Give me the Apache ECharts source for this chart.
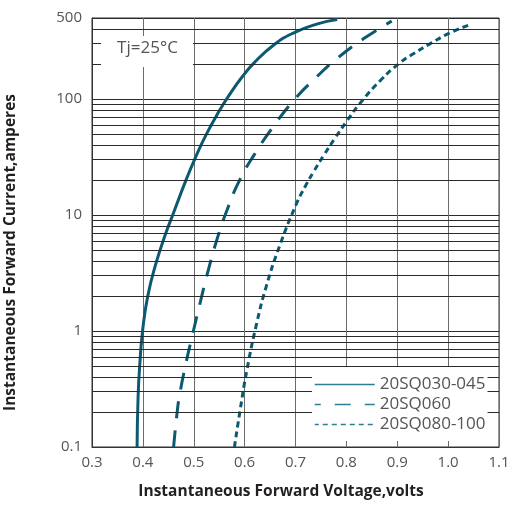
<!DOCTYPE html>
<html><head><meta charset="utf-8">
<script src="https://cdn.jsdelivr.net/npm/echarts@6/dist/echarts.min.js"></script>
<style>html,body{margin:0;padding:0;background:#fff}#c{width:512px;height:505px}</style>
</head><body><div id="c"></div>
<script>
var seriesNames = ['20SQ030-045', '20SQ060', '20SQ080-100'];
var xTicks = ['0.3','0.4','0.5','0.6','0.7','0.8','0.9','1.0','1.1'];
var yTicks = ['0.1','1','10','100','500'];
var minorGrid = [0.2,0.3,0.4,0.5,0.6,0.7,0.8,0.9,2,3,4,5,6,7,8,9,20,30,40,50,60,70,80,90,200,300,400];
// [voltage, current]
var curveA = [[0.3886,0.1],[0.3906,0.271],[0.3941,0.527],[0.3996,1.02],[0.4094,1.98],[0.4257,3.83],[0.4459,7.14],[0.4598,10.3],[0.4847,20.0],[0.5039,31.8],[0.5239,48.9],[0.5473,75.3],[0.5720,112],[0.5935,152],[0.6190,206],[0.6578,294],[0.6957,371],[0.7416,443],[0.7820,485]];
var curveB = [[0.4604,0.1],[0.4671,0.195],[0.4722,0.281],[0.4839,0.509],[0.4982,0.955],[0.5131,1.79],[0.5278,3.25],[0.5453,6.09],[0.5653,11.0],[0.5902,20.0],[0.6206,34.0],[0.6561,57.7],[0.6953,96.1],[0.7420,156],[0.7845,229],[0.8349,334],[0.8892,470]];
var curveC = [[0.580,0.1],[0.5912,0.2085],[0.6045,0.461],[0.6237,1.165],[0.6433,2.49],[0.6686,5.40],[0.7008,12.2],[0.7204,18.1],[0.7355,23.6],[0.7559,32.9],[0.7773,45.8],[0.800,63.7],[0.8267,91.8],[0.8678,146],[0.9039,203],[0.9333,248],[0.9657,302],[1.0014,368],[1.0406,434]];

var curveColor = '#0b5a72';
var legendColor = '#2f7c95';
var chart = echarts.init(document.getElementById('c'));
chart.setOption({
  animation: false,
  textStyle: {fontFamily: 'Open Sans'},
  grid: {left: 92, right: 13, top: 18, bottom: 58, containLabel: false, outerBoundsMode: 'none',
    show: true, borderColor: '#333', borderWidth: 1, backgroundColor: '#fff'},
  xAxis: {
    type: 'value', min: 0.3, max: 1.1, interval: 0.1,
    name: 'Instantaneous Forward Voltage,volts', nameLocation: 'middle', nameGap: 37,
    nameTextStyle: {fontFamily: 'Open Sans', fontWeight: 'bold', fontSize: 15.5, color: '#231f20', padding: [0, 29, 0, 0]},
    axisLine: {show: true, lineStyle: {color: '#333'}},
    axisTick: {show: false},
    axisLabel: {color: '#555', fontSize: 15, margin: 8, formatter: function (v) {
      var i = Math.round((v - 0.3) * 10); return xTicks[i] !== undefined ? xTicks[i] : ''; }},
    splitLine: {show: true, lineStyle: {color: '#6b6b6b', width: 1}}
  },
  yAxis: {
    type: 'log', logBase: 10, min: 0.1, max: 500,
    name: 'Instantaneous Forward Current,amperes', nameLocation: 'middle', nameGap: 73, nameRotate: 90,
    nameTextStyle: {fontFamily: 'Open Sans', fontWeight: 'bold', fontSize: 15.5, color: '#231f20', padding: [0, 40, 0, 0]},
    axisLine: {show: true, lineStyle: {color: '#333'}},
    axisTick: {show: false},
    axisLabel: {color: '#555', fontSize: 15, margin: 10, showMaxLabel: true, formatter: function (v) {
      var s = String(Math.round(v * 10) / 10); return yTicks.indexOf(s) >= 0 ? s : ''; }},
    splitLine: {show: true, lineStyle: {color: '#2a2a2a', width: 1}}
  },
  legend: {
    show: true, orient: 'vertical', left: 312, top: 367, z: 10,
    backgroundColor: '#fff', padding: [9, 2, 8, 2],
    itemWidth: 60, itemHeight: 18, itemGap: 3,
    itemStyle: {opacity: 0},
    textStyle: {fontSize: 17, color: '#555'},
    data: [
      {name: seriesNames[0], itemStyle: {opacity: 0}, lineStyle: {width: 1.5, color: legendColor, type: 'solid'}},
      {name: seriesNames[1], itemStyle: {opacity: 0}, lineStyle: {width: 1.5, color: legendColor, type: [16, 14], dashOffset: 10}},
      {name: seriesNames[2], itemStyle: {opacity: 0}, lineStyle: {width: 1.5, color: legendColor, type: [5, 4]}}
    ]
  },
  graphic: [
    {type: 'rect', z: 100, shape: {x: 101, y: 36, width: 92, height: 31}, style: {fill: '#fff'}},
    {type: 'text', z: 101, x: 147.5, y: 48, style: {text: 'Tj=25°C', fontSize: 17, fontFamily: 'Open Sans', fill: '#555', align: 'center', verticalAlign: 'middle'}}
  ],
  series: [
    {type: 'line', name: 'grid-minor', data: [], z: 1, silent: true, legendHoverLink: false,
      markLine: {silent: true, symbol: 'none', label: {show: false}, animation: false,
        lineStyle: {color: '#2a2a2a', width: 1, type: 'solid'},
        data: minorGrid.map(function (v) { return {yAxis: v}; })}},
    {type: 'line', name: seriesNames[0], data: curveA, smooth: 0.5, symbol: 'none', z: 3,
      lineStyle: {color: curveColor, width: 3}, itemStyle: {color: curveColor}},
    {type: 'line', name: seriesNames[1], data: curveB, smooth: 0.5, symbol: 'none', z: 3,
      lineStyle: {color: curveColor, width: 3, type: [17, 12]}, itemStyle: {color: curveColor}},
    {type: 'line', name: seriesNames[2], data: curveC, smooth: 0.5, symbol: 'none', z: 3,
      lineStyle: {color: curveColor, width: 3, type: [6, 4]}, itemStyle: {color: curveColor}}
  ]
});
</script></body></html>
